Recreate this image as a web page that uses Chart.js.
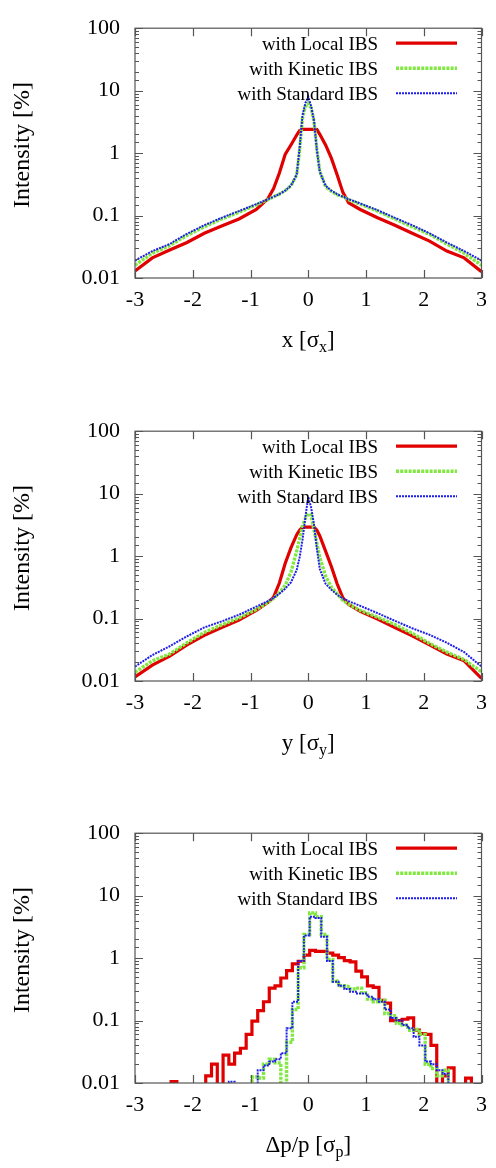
<!DOCTYPE html>
<html>
<head>
<meta charset="utf-8">
<script src="https://cdn.jsdelivr.net/npm/chart.js@4/dist/chart.umd.min.js"></script>
<style>
  body { margin: 0; background: #fff; width: 496px; height: 1168px; overflow: hidden; position: relative; }
  .panel { position: absolute; left: 0; width: 496px; height: 390px; }
</style>
</head>
<body>
<div class="panel" style="top:0px"><canvas id="chartX"></canvas></div>
<div class="panel" style="top:403px"><canvas id="chartY"></canvas></div>
<div class="panel" style="top:805px"><canvas id="chartP"></canvas></div>
<script>
// transverse profiles (x and y), positions in sigma
const posXY = [-3, -2.7, -2.4, -2.1, -1.8, -1.5, -1.2, -0.9, -0.7, -0.6, -0.5, -0.4, -0.3, -0.2, -0.15, -0.1, -0.05, 0,
               0.05, 0.1, 0.15, 0.2, 0.3, 0.4, 0.5, 0.6, 0.7, 0.9, 1.2, 1.5, 1.8, 2.1, 2.4, 2.7, 3];

const localX = [0.013, 0.021, 0.028, 0.037, 0.052, 0.068, 0.088, 0.125, 0.185, 0.27, 0.48, 0.95, 1.35, 1.95, 2.3, 2.4, 2.4, 2.4,
                2.4, 2.4, 2.38, 2.0, 1.35, 0.83, 0.45, 0.235, 0.16, 0.125, 0.092, 0.07, 0.052, 0.039, 0.027, 0.021, 0.0126];
const kineticX = [0.016, 0.025, 0.033, 0.048, 0.066, 0.088, 0.113, 0.148, 0.18, 0.2, 0.22, 0.25, 0.3, 0.45, 1.1, 3.6, 5.6, 6.3,
                  5.3, 3.2, 1.13, 0.51, 0.29, 0.245, 0.215, 0.2, 0.18, 0.152, 0.118, 0.088, 0.066, 0.05, 0.035, 0.025, 0.016];
const standardX = [0.019, 0.027, 0.035, 0.051, 0.07, 0.092, 0.118, 0.152, 0.182, 0.2, 0.22, 0.25, 0.3, 0.45, 1.2, 4.0, 6.3, 8.0,
                   5.6, 3.3, 1.1, 0.5, 0.3, 0.25, 0.22, 0.2, 0.183, 0.156, 0.122, 0.092, 0.07, 0.052, 0.037, 0.027, 0.019];

const localY = [0.0116, 0.018, 0.025, 0.038, 0.054, 0.072, 0.095, 0.135, 0.18, 0.22, 0.37, 0.76, 1.35, 2.2, 2.6, 2.9, 2.9, 2.9,
                2.9, 2.9, 2.6, 2.1, 1.2, 0.68, 0.36, 0.215, 0.168, 0.13, 0.098, 0.072, 0.053, 0.038, 0.027, 0.021, 0.011];
const kineticY = [0.0138, 0.021, 0.027, 0.041, 0.06, 0.079, 0.102, 0.14, 0.18, 0.21, 0.26, 0.34, 0.55, 1.2, 1.9, 3.0, 4.0, 4.8,
                  4.5, 2.6, 1.6, 0.95, 0.48, 0.32, 0.25, 0.195, 0.17, 0.135, 0.105, 0.08, 0.058, 0.04, 0.029, 0.022, 0.014];
const standardY = [0.017, 0.026, 0.036, 0.052, 0.072, 0.09, 0.115, 0.155, 0.19, 0.215, 0.25, 0.3, 0.38, 0.6, 0.95, 1.8, 4.2, 8.9,
                   6.0, 3.2, 1.3, 0.62, 0.36, 0.29, 0.24, 0.21, 0.19, 0.16, 0.122, 0.092, 0.07, 0.055, 0.041, 0.029, 0.017];

// longitudinal histogram, bin centres in sigma_p (bin width 0.1)
const binsP = [-2.425, -2.325, -2.225, -2.125, -2.025, -1.925, -1.825, -1.725, -1.625, -1.525,
               -1.425, -1.325, -1.225, -1.125, -1.025, -0.925, -0.825, -0.725, -0.625, -0.525,
               -0.425, -0.325, -0.225, -0.125, -0.025, 0.075, 0.175, 0.275, 0.375, 0.475,
               0.575, 0.675, 0.775, 0.875, 0.975, 1.075, 1.175, 1.275, 1.375, 1.475,
               1.575, 1.675, 1.775, 1.875, 1.975, 2.075, 2.175, 2.275, 2.375, 2.475,
               2.575, 2.675, 2.775, 2.875, 2.975];
const E = 0.001; // empty bin, below the axis
const localP = [E, 0.0105, E, E, E, E, E, 0.013, 0.020, E,
                0.028, 0.020, 0.030, 0.036, 0.06, 0.098, 0.144, 0.20, 0.33, 0.36,
                0.48, 0.63, 0.81, 0.89, 1.12, 1.33, 1.28, 1.28, 1.2, 1.12,
                1.02, 0.91, 0.87, 0.62, 0.5, 0.36, 0.34, 0.21, 0.19, 0.1,
                0.1, 0.105, 0.11, 0.07, 0.062, 0.06, 0.04, E, 0.013, 0.0175,
                E, E, 0.012, E, E];
const kineticP = [E, E, E, E, E, E, E, E, E, E,
                  E, E, E, E, E, 0.0125, 0.012, 0.02, 0.024, 0.021,
                  E, 0.045, 0.15, 0.7, 2.4, 5.3, 4.6, 2.4, 0.95, 0.43,
                  0.36, 0.35, 0.32, 0.33, 0.28, 0.22, 0.2, 0.21, 0.13, 0.12,
                  0.09, 0.085, 0.07, 0.072, 0.06, 0.02, 0.017, 0.013, 0.016, E,
                  E, E, E, E, E];
const standardP = [E, E, E, E, E, E, E, E, E, E,
                   E, 0.0105, E, E, E, E, 0.016, 0.019, 0.022, 0.024,
                   0.03, 0.075, 0.2, 0.9, 2.3, 4.6, 4.4, 2.2, 0.9, 0.42,
                   0.36, 0.32, 0.29, 0.27, 0.27, 0.24, 0.22, 0.2, 0.15, 0.11,
                   0.1, 0.085, 0.075, 0.055, 0.04, 0.022, 0.02, 0.016, 0.014, E,
                   E, E, E, E, E];

const yTickLabels = ['0.01', '0.1', '1', '10', '100'];
const legendLabels = ['with Local IBS', 'with Kinetic IBS', 'with Standard IBS'];

const SERIF = '"Liberation Serif", "Times New Roman", serif';

function isDecade(v) {
    const l = Math.log10(v);
    return Math.abs(l - Math.round(l)) < 1e-6;
}

function pts(xs, ys) {
    return xs.map(function (x, i) { return { x: x, y: ys[i] }; });
}

function makeDatasets(xs, a, b, c, stepped) {
    return [
        { label: legendLabels[0], data: pts(xs, a), borderColor: '#e00000', borderWidth: 3.2, borderDash: [], order: 3 },
        { label: legendLabels[1], data: pts(xs, b), borderColor: '#80e840', borderWidth: 3.4, borderDash: [3, 1.2], order: 2 },
        { label: legendLabels[2], data: pts(xs, c), borderColor: '#1e1ee8', borderWidth: 2, borderDash: [2, 1], order: 1 }
    ].map(function (d) {
        d.pointRadius = 0;
        d.fill = false;
        d.tension = 0;
        d.stepped = stepped ? 'middle' : false;
        return d;
    });
}

// frame, inward ticks, legend and axis titles, gnuplot style
const framePlugin = {
    id: 'frame',
    afterDraw: function (chart, args, opts) {
        const ctx = chart.ctx, a = chart.chartArea;
        const sx = chart.scales.x, sy = chart.scales.y;
        ctx.save();
        ctx.strokeStyle = '#555';
        ctx.lineWidth = 1.2;
        ctx.setLineDash([]);
        ctx.beginPath();
        sx.ticks.forEach(function (t) {
            const px = Math.round(sx.getPixelForValue(t.value)) + 0.5;
            ctx.moveTo(px, a.bottom); ctx.lineTo(px, a.bottom - 8);
            ctx.moveTo(px, a.top); ctx.lineTo(px, a.top + 8);
        });
        sy.ticks.forEach(function (t) {
            const len = isDecade(t.value) ? 8 : 4;
            const py = Math.round(sy.getPixelForValue(t.value)) + 0.5;
            ctx.moveTo(a.left, py); ctx.lineTo(a.left + len, py);
            ctx.moveTo(a.right, py); ctx.lineTo(a.right - len, py);
        });
        ctx.stroke();
        ctx.strokeRect(a.left, a.top, a.right - a.left, a.bottom - a.top);

        // legend
        ctx.font = '19px ' + SERIF;
        ctx.fillStyle = '#000';
        ctx.textAlign = 'right';
        ctx.textBaseline = 'alphabetic';
        chart.data.datasets.forEach(function (d, i) {
            const ly = a.top + 15 + i * 25;
            ctx.fillText(d.label, 378, ly + 7);
            ctx.strokeStyle = d.borderColor;
            ctx.lineWidth = d.borderWidth;
            ctx.setLineDash(d.borderDash);
            ctx.beginPath();
            ctx.moveTo(396, ly);
            ctx.lineTo(457, ly);
            ctx.stroke();
        });
        ctx.setLineDash([]);

        // y title
        ctx.fillStyle = '#000';
        ctx.font = '24px ' + SERIF;
        ctx.save();
        ctx.translate(23, (a.top + a.bottom) / 2 - 8);
        ctx.rotate(-Math.PI / 2);
        ctx.textAlign = 'center';
        ctx.textBaseline = 'middle';
        ctx.fillText('Intensity [%]', 0, 0);
        ctx.restore();

        // x title with subscript
        const t = opts.xTitle;
        ctx.textBaseline = 'alphabetic';
        ctx.textAlign = 'left';
        ctx.font = '23px ' + SERIF;
        const w1 = ctx.measureText(t[0]).width;
        const w3 = ctx.measureText(t[2]).width;
        ctx.font = '16px ' + SERIF;
        const w2 = ctx.measureText(t[1]).width;
        let x0 = (a.left + a.right) / 2 - (w1 + w2 + w3) / 2;
        const base = 347;
        ctx.font = '23px ' + SERIF;
        ctx.fillText(t[0], x0, base);
        ctx.font = '16px ' + SERIF;
        ctx.fillText(t[1], x0 + w1, base + 5);
        ctx.font = '23px ' + SERIF;
        ctx.fillText(t[2], x0 + w1 + w2, base);
        ctx.restore();
    }
};

function makeChart(id, datasets, xTitle) {
    return new Chart(document.getElementById(id), {
        type: 'line',
        data: { datasets: datasets },
        plugins: [framePlugin],
        options: {
            responsive: true,
            maintainAspectRatio: false,
            animation: false,
            devicePixelRatio: 1,
            layout: { padding: { top: 10, right: 9, left: 0, bottom: 0 } },
            plugins: {
                legend: { display: false },
                tooltip: { enabled: false },
                frame: { xTitle: xTitle }
            },
            scales: {
                x: {
                    type: 'linear',
                    min: -3,
                    max: 3,
                    grid: { display: false, drawTicks: false },
                    border: { display: false },
                    ticks: { stepSize: 1, padding: 9, color: '#000', font: { family: SERIF, size: 22 } },
                    afterFit: function (s) { s.height = 112; }
                },
                y: {
                    type: 'logarithmic',
                    min: 0.01,
                    max: 100,
                    grid: { display: false, drawTicks: false },
                    border: { display: false },
                    ticks: {
                        autoSkip: false,
                        padding: 15,
                        color: '#000',
                        font: { family: SERIF, size: 22 },
                        callback: function (v) {
                            if (!isDecade(v)) return '';
                            return yTickLabels[Math.round(Math.log10(v)) + 2];
                        }
                    },
                    afterFit: function (s) { s.width = 135; }
                }
            }
        }
    });
}

makeChart('chartX', makeDatasets(posXY, localX, kineticX, standardX, false), ['x [\u03c3', 'x', ']']);
makeChart('chartY', makeDatasets(posXY, localY, kineticY, standardY, false), ['y [\u03c3', 'y', ']']);
makeChart('chartP', makeDatasets(binsP, localP, kineticP, standardP, true), ['\u0394p/p [\u03c3', 'p', ']']);
</script>
</body>
</html>
